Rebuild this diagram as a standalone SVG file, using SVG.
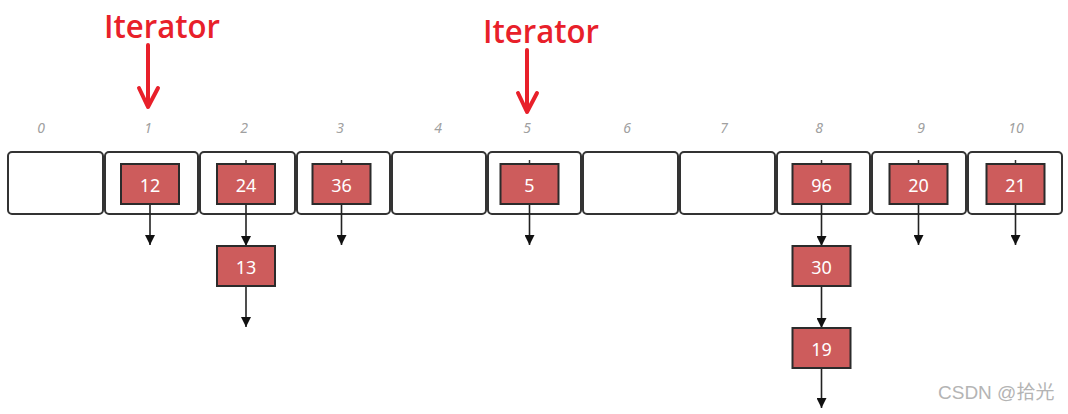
<svg xmlns="http://www.w3.org/2000/svg" width="1068" height="414" viewBox="0 0 1068 414">
<style>
.bucket{fill:#fff;stroke:#333;stroke-width:2}
.node{fill:#cd5c5c;stroke:#2b2b2b;stroke-width:2}
.val{font-family:"Noto Sans","Open Sans",sans-serif;font-size:18px;fill:#fff;text-anchor:middle}
.idx{font-family:"Noto Sans","DejaVu Sans",sans-serif;font-size:14px;font-style:italic;fill:#a0a0a0;text-anchor:middle}
.link{stroke:#222;stroke-width:1.6;fill:none;marker-end:url(#ah)}
.tick{stroke:#333;stroke-width:1.5}
.iter{font-family:"Open Sans","Noto Sans",sans-serif;font-size:33px;font-weight:600;fill:#e8202a}
.red{stroke:#e8202a;stroke-width:4;fill:none;stroke-linecap:round;stroke-linejoin:round}
.wm{font-family:"Liberation Sans","Noto Sans CJK SC",sans-serif;font-size:19px;fill:#b4b4b4}
</style>
<defs>
<marker id="ah" viewBox="0 0 10 10" refX="10" refY="5" markerWidth="10" markerHeight="10" markerUnits="userSpaceOnUse" orient="auto">
<path d="M0,0 L10,5 L0,10 z" fill="#111"/>
</marker>
</defs>
<g id="iterator1">
<text class="iter" x="104" y="38" textLength="116" lengthAdjust="spacingAndGlyphs">Iterator</text>
<path class="red" d="M148,45 L148,107 M139,88 L148,107 L158,88"/>
</g>
<g id="iterator2">
<text class="iter" x="483" y="43" textLength="116" lengthAdjust="spacingAndGlyphs">Iterator</text>
<path class="red" d="M527,50 L527,112 M518,93 L527,112 L537,93"/>
</g>
<g id="indices">
<text class="idx" x="41" y="133">0</text>
<text class="idx" x="148" y="133">1</text>
<text class="idx" x="244" y="133">2</text>
<text class="idx" x="340" y="133">3</text>
<text class="idx" x="438" y="133">4</text>
<text class="idx" x="527" y="133">5</text>
<text class="idx" x="627" y="133">6</text>
<text class="idx" x="724" y="133">7</text>
<text class="idx" x="819" y="133">8</text>
<text class="idx" x="921" y="133">9</text>
<text class="idx" x="1016" y="133">10</text>
</g>
<g id="buckets">
<rect id="b0" class="bucket" x="8" y="152" width="95" height="62" rx="4"/>
<rect id="b1" class="bucket" x="105" y="152" width="93" height="62" rx="4"/>
<rect id="b2" class="bucket" x="200" y="152" width="95" height="62" rx="4"/>
<rect id="b3" class="bucket" x="297" y="152" width="93" height="62" rx="4"/>
<rect id="b4" class="bucket" x="392" y="152" width="94" height="62" rx="4"/>
<rect id="b5" class="bucket" x="488" y="152" width="93" height="62" rx="4"/>
<rect id="b6" class="bucket" x="583" y="152" width="95" height="62" rx="4"/>
<rect id="b7" class="bucket" x="680" y="152" width="95" height="62" rx="4"/>
<rect id="b8" class="bucket" x="777" y="152" width="93" height="62" rx="4"/>
<rect id="b9" class="bucket" x="872" y="152" width="94" height="62" rx="4"/>
<rect id="b10" class="bucket" x="968" y="152" width="94" height="62" rx="4"/>
</g>
<g id="connectors">
<line class="link" x1="150" y1="204" x2="150" y2="245"/>
<line class="link" x1="246" y1="204" x2="246" y2="246"/>
<line class="link" x1="341.5" y1="204" x2="341.5" y2="245"/>
<line class="link" x1="529.5" y1="204" x2="529.5" y2="245"/>
<line class="link" x1="821.5" y1="204" x2="821.5" y2="246"/>
<line class="link" x1="918.5" y1="204" x2="918.5" y2="245"/>
<line class="link" x1="1015.5" y1="204" x2="1015.5" y2="245"/>
<line class="link" x1="246" y1="286" x2="246" y2="327"/>
<line class="link" x1="821.5" y1="286" x2="821.5" y2="328"/>
<line class="link" x1="821.5" y1="368" x2="821.5" y2="408"/>
<line class="tick" x1="246" y1="160" x2="246" y2="164"/>
<line class="tick" x1="341.5" y1="160" x2="341.5" y2="164"/>
<line class="tick" x1="529.5" y1="160" x2="529.5" y2="164"/>
<line class="tick" x1="821.5" y1="160" x2="821.5" y2="164"/>
<line class="tick" x1="918.5" y1="160" x2="918.5" y2="164"/>
<line class="tick" x1="1015.5" y1="160" x2="1015.5" y2="164"/>
</g>
<g id="n12"><rect class="node" x="121" y="164" width="58" height="40"/><text class="val" x="150" y="192">12</text></g>
<g id="n24"><rect class="node" x="217" y="164" width="58" height="40"/><text class="val" x="246" y="192">24</text></g>
<g id="n36"><rect class="node" x="312.5" y="164" width="58" height="40"/><text class="val" x="341.5" y="192">36</text></g>
<g id="n5"><rect class="node" x="500.5" y="164" width="58" height="40"/><text class="val" x="529.5" y="192">5</text></g>
<g id="n96"><rect class="node" x="792.5" y="164" width="58" height="40"/><text class="val" x="821.5" y="192">96</text></g>
<g id="n20"><rect class="node" x="889.5" y="164" width="58" height="40"/><text class="val" x="918.5" y="192">20</text></g>
<g id="n21"><rect class="node" x="986.5" y="164" width="58" height="40"/><text class="val" x="1015.5" y="192">21</text></g>
<g id="n13"><rect class="node" x="217" y="246" width="58" height="40"/><text class="val" x="246" y="274">13</text></g>
<g id="n30"><rect class="node" x="792.5" y="246" width="58" height="40"/><text class="val" x="821.5" y="274">30</text></g>
<g id="n19"><rect class="node" x="792.5" y="328" width="58" height="40"/><text class="val" x="821.5" y="356">19</text></g>
<text class="wm" x="938" y="399">CSDN @拾光</text>
</svg>
